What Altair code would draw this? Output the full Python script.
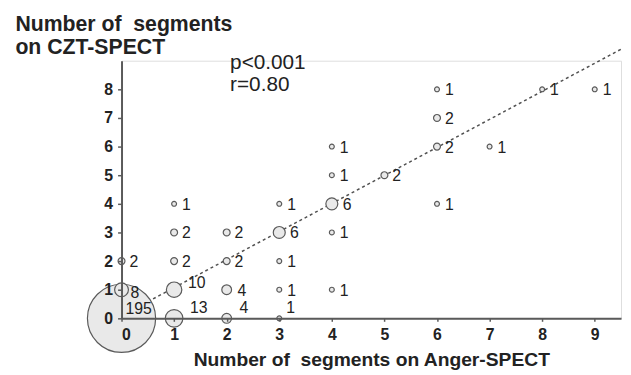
import altair as alt
import pandas as pd

# Data: (Anger-SPECT segments, CZT-SPECT segments, number of patients)
anger = [0, 0, 0, 1, 1, 1, 1, 1, 2, 2, 2, 2, 3, 3, 3, 3, 3, 4, 4, 4, 4, 4, 5, 6, 6, 6, 6, 7, 8, 9]
czt   = [0, 1, 2, 0, 1, 2, 3, 4, 0, 1, 2, 3, 0, 1, 2, 3, 4, 1, 3, 4, 5, 6, 5, 4, 6, 7, 8, 6, 8, 8]
count = [195, 8, 2, 13, 10, 2, 2, 1, 4, 4, 2, 2, 1, 1, 1, 6, 1, 1, 1, 6, 1, 1, 2, 1, 2, 2, 1, 1, 1, 1]

fit_x = [0.6, 9.5]
fit_y = [0.68, 9.4]

x_ticks = [0, 1, 2, 3, 4, 5, 6, 7, 8, 9]
y_ticks = [0, 1, 2, 3, 4, 5, 6, 7, 8]

df = pd.DataFrame({"x": anger, "y": czt, "n": count})
df["label"] = df["n"].astype(str)
fit = pd.DataFrame({"x": fit_x, "y": fit_y})
stats = pd.DataFrame({"t": ["p<0.001", "r=0.80"]})

FONT = "Liberation Sans"
TXT = "#222222"
AX = "#5a5a5a"
NB = "\u00a0"

xs = alt.Scale(domain=[0, 9.5], nice=False, zero=False)
ys = alt.Scale(domain=[0, 9], nice=False, zero=False)

x_axis = alt.Axis(
    values=x_ticks, title=f"Number of{NB} segments on Anger-SPECT", grid=False,
    domainColor=AX, domainWidth=2, tickColor=AX, tickWidth=1.5, tickSize=3,
    labelFont=FONT, labelFontSize=16, labelFontWeight="bold", labelColor=TXT,
    labelPadding=5, titleFont=FONT, titleFontSize=19.5, titleFontWeight="bold",
    titleColor=TXT, titleY=48, titleBaseline="alphabetic", zindex=1,
)
y_axis = alt.Axis(
    values=y_ticks, title=[f"Number of{NB} segments", "on CZT-SPECT"], grid=False,
    domainColor=AX, domainWidth=2, tickColor=AX, tickWidth=1.5, tickSize=4,
    labelFont=FONT, labelFontSize=16, labelFontWeight="bold", labelColor=TXT,
    labelPadding=5, labelOverlap=False, titleFont=FONT, titleFontSize=21.5,
    titleFontWeight="bold", titleColor=TXT, titleAngle=0, titleAlign="left",
    titleBaseline="alphabetic", titleX=-108, titleY=-31, titleLineHeight=24,
    zindex=1,
)

X = alt.X("x:Q", scale=xs, axis=x_axis)
Y = alt.Y("y:Q", scale=ys, axis=y_axis)

base = alt.Chart(df)

points = base.mark_point(
    shape="circle", filled=False, fill="#e9e9e9", fillOpacity=1,
    stroke="#5a5a5a", strokeWidth=1.2, opacity=1,
).encode(
    x=X, y=Y,
    size=alt.Size("n:Q", scale=alt.Scale(type="linear", domain=[0, 195], range=[0, 4775]), legend=None),
    order=alt.Order("n:Q", sort="descending"),
)

line = alt.Chart(fit).mark_line(
    color="#505050", strokeDash=[3, 3], strokeWidth=1.5
).encode(x=X, y=Y)


def labels(filt, dx, dy):
    return base.transform_filter(filt).mark_text(
        align="left", baseline="middle", dx=dx, dy=dy,
        font=FONT, fontSize=16, color=TXT,
    ).encode(x=X, y=Y, text="label:N")


normal = "(datum.x > 0 || datum.y > 1) && !(datum.y == 0) && !(datum.x == 1 && datum.y == 1)"
lab_small = labels(f"({normal}) && datum.n <= 2", 8, 1)
lab_mid = labels(f"({normal}) && datum.n > 2", 11, 1)
lab_big = labels("datum.y == 0 && datum.x == 1", 16, -10)
lab_10 = labels("datum.y == 1 && datum.x == 1", 14, -7)
lab_r4 = labels("datum.y == 0 && datum.x == 2", 13, -10)
lab_r1 = labels("datum.y == 0 && datum.x == 3", 7, -10)
lab_195 = labels("datum.y == 0 && datum.x == 0", 4, -9)
lab_8 = labels("datum.y == 1 && datum.x == 0", 9, 3)

stat_p = alt.Chart(stats).transform_filter("datum.t == 'p<0.001'").mark_text(
    align="left", baseline="alphabetic", font=FONT, fontSize=21, color=TXT
).encode(x=alt.value(110), y=alt.value(8), text="t:N")
stat_r = alt.Chart(stats).transform_filter("datum.t == 'r=0.80'").mark_text(
    align="left", baseline="alphabetic", font=FONT, fontSize=21, color=TXT
).encode(x=alt.value(110), y=alt.value(31), text="t:N")

chart = alt.layer(
    line, points, lab_small, lab_mid, lab_big, lab_10, lab_r4, lab_r1, lab_195, lab_8,
    stat_p, stat_r,
).properties(
    width=506, height=261,
    autosize=alt.AutoSizeParams(type="none"),
    padding={"left": 115, "top": 51, "right": 2, "bottom": 55},
).configure_view(stroke=None).configure(background="white")

chart.save("out.html", embed_options={"renderer": "svg", "actions": False})
